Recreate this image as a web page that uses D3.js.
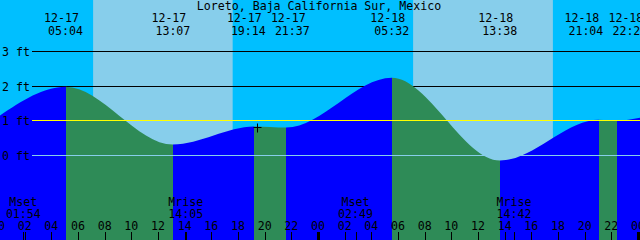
<!DOCTYPE html>
<html lang="en">
<head>
    <meta charset="UTF-8">
    <title>Loreto tides</title>
    <style>
        body { margin: 0; background: #fff; }
        svg { display: block; }
    </style>
</head>
<body>
<div id="graph"></div>

<script src="https://cdnjs.cloudflare.com/ajax/libs/d3/7.8.5/d3.min.js"></script>

<script>
    //data
    const title = "Loreto, Baja California Sur, Mexico";

    const tideDates = ["12-17", "12-17", "12-17", "12-17", "12-18", "12-18", "12-18", "12-18"];
    const tideTimes = ["05:04", "13:07", "19:14", "21:37", "05:32", "13:38", "21:04", "22:25"];
    const tideTypes = ["high", "low", "high", "low", "high", "low", "high", "low"];
    const tideHeights = [1.97, 0.30, 0.82, 0.79, 2.23, -0.16, 1.02, 0.99];

    //levels at the two edges of the window
    const edgeDates = ["12-16", "12-19"];
    const edgeTimes = ["23:45", "00:15"];
    const edgeHeights = [1.03, 1.08];

    const sunDates = ["12-17", "12-18"];
    const sunriseTimes = ["07:08", "07:08"];
    const sunsetTimes = ["17:36", "17:37"];

    const moonNames = ["Mset", "Mrise", "Mset", "Mrise"];
    const moonDates = ["12-17", "12-17", "12-18", "12-18"];
    const moonTimes = ["01:54", "14:05", "02:49", "14:42"];

    const levels = [3, 2, 1, 0];
    const levelLabels = ["3 ft", "2 ft", "1 ft", "0 ft"];

    const nowDate = "12-17";
    const nowTime = "19:27";
    const nowHeight = 0.82;

    //config
    const width = 640, height = 240;
    const font = "'DejaVu Sans Mono', monospace";
    const nightColor = "#00bfff", dayColor = "#87ceeb";
    const risingColor = "#0000ff", fallingColor = "#2e8b57";
    const minLabelGap = 44;

    //hours since 12-17 00:00
    function hours(date, time) {
        const day = +date.split("-")[1] - 17;
        const hm = time.split(":");
        return day * 24 + (+hm[0]) + (+hm[1]) / 60;
    }

    const x = d3.scaleLinear().domain([0, 48]).range([-2, 638]);
    const y = d3.scaleLinear().domain([0, 3]).range([155, 51]);

    const svg = d3.select("#graph").append("svg")
        .attr("width", width)
        .attr("height", height)
        .style("font-family", font)
        .style("font-size", "11.6px");

    //night background, then day bands
    svg.append("rect").attr("width", width).attr("height", height).attr("fill", nightColor);
    sunDates.forEach((d, i) => {
        const x0 = x(hours(d, sunriseTimes[i])), x1 = x(hours(d, sunsetTimes[i]));
        svg.append("rect").attr("x", x0).attr("y", 0)
            .attr("width", x1 - x0).attr("height", height)
            .attr("fill", dayColor);
    });

    function levelLine(lv, color) {
        const ly = Math.round(y(lv)) + 0.5;
        svg.append("line")
            .attr("x1", 32).attr("x2", width)
            .attr("y1", ly).attr("y2", ly)
            .attr("stroke", color)
            .attr("shape-rendering", "crispEdges");
    }

    //black grid lines under the water
    levels.filter(lv => lv >= 2).forEach(lv => levelLine(lv, "#000"));

    //tide curve points
    let pts = tideTimes.map((t, i) => ({h: hours(tideDates[i], t), v: tideHeights[i], type: tideTypes[i]}));
    edgeTimes.forEach((t, i) => pts.push({h: hours(edgeDates[i], t), v: edgeHeights[i], type: "edge"}));
    pts.sort((a, b) => a.h - b.h);

    const area = d3.area()
        .x(d => x(d.h))
        .y0(height)
        .y1(d => y(d.v))
        .curve(d3.curveMonotoneX);

    svg.append("clipPath").attr("id", "water")
        .append("path").attr("d", area(pts));

    //rising = blue, falling = green, split at each high/low
    const water = svg.append("g").attr("clip-path", "url(#water)");
    for (let i = 0; i < pts.length - 1; i++) {
        const a = pts[i], b = pts[i + 1];
        const falling = a.type === "high" || b.type === "low";
        water.append("rect")
            .attr("x", x(a.h)).attr("y", 0)
            .attr("width", x(b.h) - x(a.h)).attr("height", height)
            .attr("fill", falling ? fallingColor : risingColor)
            .attr("shape-rendering", "crispEdges");
    }

    //1 ft (yellow) and 0 ft lines on top of the water
    levelLine(1, "#ffff00");
    levelLine(0, "#87ceeb");

    levels.forEach((lv, i) => {
        svg.append("text")
            .attr("x", 2).attr("y", y(lv) + 5)
            .text(levelLabels[i]);
    });

    //title
    svg.append("text")
        .attr("x", 319).attr("y", 10)
        .attr("text-anchor", "middle")
        .text(title);

    //tide event labels, pushed apart when too close
    const labelX = tideTimes.map((t, i) => x(hours(tideDates[i], t)));
    for (let i = 1; i < labelX.length; i++) {
        const gap = labelX[i] - labelX[i - 1];
        if (gap < minLabelGap) {
            const d = (minLabelGap - gap) / 2;
            labelX[i - 1] -= d;
            labelX[i] += d;
        }
    }
    tideTimes.forEach((t, i) => {
        svg.append("text").attr("x", labelX[i] - 4).attr("y", 21.5)
            .attr("text-anchor", "middle").text(tideDates[i]);
        svg.append("text").attr("x", labelX[i]).attr("y", 34.5)
            .attr("text-anchor", "middle").text(t);
    });

    //hour ticks along the bottom
    const hourTicks = d3.range(0, 49, 2);
    hourTicks.forEach(h => {
        const px = Math.round(x(h));
        svg.append("line")
            .attr("x1", px + 0.5).attr("x2", px + 0.5)
            .attr("y1", 232).attr("y2", height)
            .attr("stroke", "#000")
            .attr("stroke-width", h % 24 === 0 ? 3 : 1);
        svg.append("text").attr("x", x(h)).attr("y", 230)
            .attr("text-anchor", "middle")
            .text(d3.format("02")(h % 24));
    });

    //moon rise / set
    moonNames.forEach((n, i) => {
        const mx = x(hours(moonDates[i], moonTimes[i]));
        svg.append("line")
            .attr("x1", Math.round(mx) + 0.5).attr("x2", Math.round(mx) + 0.5)
            .attr("y1", 232).attr("y2", height)
            .attr("stroke", "#000");
        svg.append("text").attr("x", mx).attr("y", 206)
            .attr("text-anchor", "middle").text(n);
        svg.append("text").attr("x", mx).attr("y", 218)
            .attr("text-anchor", "middle").text(moonTimes[i]);
    });

    //current time mark
    const cx = Math.round(x(hours(nowDate, nowTime))) + 0.5;
    const cy = Math.round(y(nowHeight)) + 0.5;
    svg.append("path")
        .attr("d", `M${cx - 4},${cy}H${cx + 4}M${cx},${cy - 4}V${cy + 5}`)
        .attr("stroke", "#000");
</script>
</body>
</html>
